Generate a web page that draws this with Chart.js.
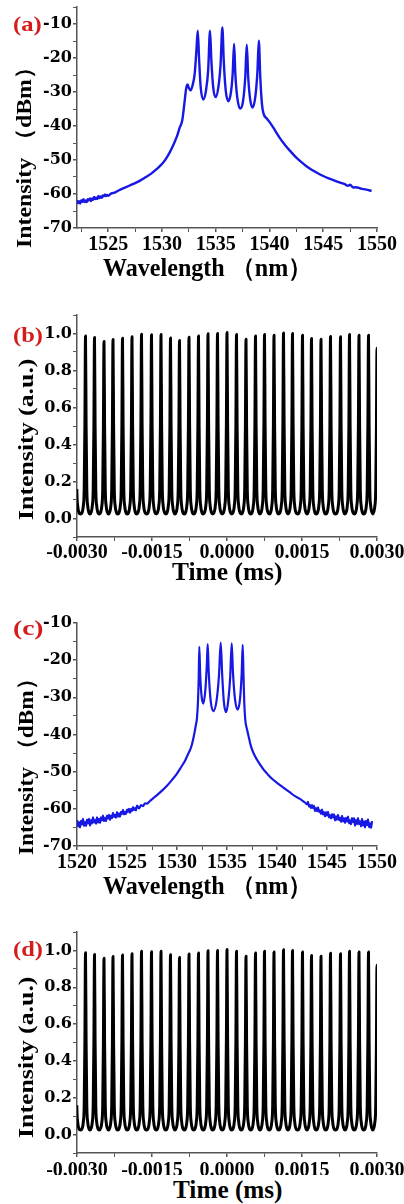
<!DOCTYPE html>
<html>
<head>
<meta charset="utf-8">
<script src="https://cdn.jsdelivr.net/npm/chart.js@4.4.0/dist/chart.umd.min.js"></script>
<style>
  body { margin: 0; background: #fff; width: 404px; height: 1204px; position: relative; overflow: hidden; }
  canvas { position: absolute; left: 0; }
  .txt { position: absolute; white-space: nowrap; font-family: 'Liberation Serif', serif; font-weight: bold; line-height: 1; color: #000; }
  .tag { color: #d41c1c; }
</style>
</head>
<body>
<canvas id="a" width="404" height="270" style="top:0px"></canvas>
<canvas id="b" width="404" height="280" style="top:290px"></canvas>
<canvas id="c" width="404" height="280" style="top:596px"></canvas>
<canvas id="d" width="404" height="270" style="top:905px"></canvas>
<script>
// spectrum (a)
const wavelengthA = [1522.1, 1522.2, 1522.3, 1522.4, 1522.5, 1522.6, 1522.7, 1522.8, 1522.9, 1523.0,
  1523.1, 1523.2, 1523.3, 1523.4, 1523.5, 1523.6, 1523.7, 1523.8, 1523.9, 1524.0,
  1524.1, 1524.2, 1524.3, 1524.4, 1524.5, 1524.6, 1524.7, 1524.8, 1524.9, 1525.0,
  1525.3, 1525.6, 1526.0, 1526.5, 1527.0,
  1527.5, 1528.0, 1528.5, 1529.0, 1529.5, 1530.0, 1530.4, 1530.75, 1531.1, 1531.4,
  1531.65, 1531.89, 1532.1, 1532.25, 1532.39, 1532.5, 1532.67, 1532.85, 1533.05, 1533.2,
  1533.33, 1533.45, 1533.6, 1533.85, 1534.1, 1534.3, 1534.47, 1534.6, 1534.78, 1535.0,
  1535.25, 1535.45, 1535.62, 1535.75, 1535.93, 1536.18, 1536.42, 1536.58, 1536.71, 1536.83,
  1537.0, 1537.27, 1537.55, 1537.75, 1537.89, 1538.02, 1538.2, 1538.42, 1538.68, 1538.88,
  1539.01, 1539.15, 1539.3, 1539.44, 1539.75, 1540.0, 1540.5, 1541.0, 1541.5, 1542.0,
  1542.5, 1543.0, 1543.5, 1544.0, 1544.5, 1545.0, 1545.5, 1546.0, 1546.5, 1547.0,
  1547.3, 1547.5, 1547.8, 1548.0, 1548.5, 1549.0, 1549.5];
const powerA = [-61.8, -62.7, -62.1, -62.8, -61.8, -62.3, -61.5, -62.4, -61.9, -62.4,
  -61.5, -61.9, -61.3, -62.1, -61.3, -61.7, -60.9, -61.5, -61.1, -61.5,
  -60.6, -61.2, -60.7, -61.1, -60.4, -60.7, -60.1, -60.6, -60.3, -60.5,
  -59.8, -59.6, -58.9, -58.2, -57.5,
  -56.8, -56.0, -55.0, -54.0, -52.7, -51.2, -49.5, -47.6, -45.3, -43.0,
  -40.5, -38.3, -33.0, -29.0, -27.8, -28.8, -29.5, -28.0, -24.5, -18.0,
  -12.0, -20.0, -28.5, -32.2, -29.5, -23.5, -12.0, -21.0, -29.0, -31.5,
  -28.5, -22.0, -11.0, -21.0, -29.5, -32.7, -30.0, -24.5, -15.9, -25.0,
  -31.5, -34.9, -32.5, -25.5, -16.1, -25.5, -32.0, -34.6, -31.5, -24.0,
  -14.9, -26.0, -33.5, -36.3, -37.8, -38.8, -41.2, -43.7, -45.8, -47.6,
  -49.3, -50.7, -52.0, -53.0, -53.9, -54.7, -55.4, -56.0, -56.6, -57.1,
  -57.6, -57.3, -58.1, -58.0, -58.4, -58.7, -59.1];

// spectrum (c)
const wavelengthC = [1520.0, 1520.1, 1520.2, 1520.3, 1520.4, 1520.5, 1520.6, 1520.7, 1520.8, 1520.9,
  1521.0, 1521.1, 1521.2, 1521.3, 1521.4, 1521.5, 1521.6, 1521.7, 1521.8, 1521.9,
  1522.0, 1522.1, 1522.2, 1522.3, 1522.4, 1522.5, 1522.6, 1522.7, 1522.8, 1522.9,
  1523.0, 1523.1, 1523.2, 1523.3, 1523.4, 1523.5, 1523.6, 1523.7, 1523.8, 1523.9,
  1524.0, 1524.1, 1524.2, 1524.3, 1524.4, 1524.5, 1524.6, 1524.7, 1524.8, 1524.9,
  1525.0, 1525.1, 1525.2, 1525.3, 1525.4, 1525.5, 1525.6, 1525.7, 1525.8, 1525.9,
  1526.0, 1526.2, 1526.4, 1526.6, 1526.8, 1527.0, 1527.3, 1527.6, 1528.0, 1528.5,
  1529.0, 1529.5, 1530.0, 1530.4, 1530.83, 1531.1, 1531.33, 1531.5, 1531.67, 1531.85,
  1532.0, 1532.1, 1532.17, 1532.23, 1532.32, 1532.45, 1532.63, 1532.82, 1532.97, 1533.07,
  1533.17, 1533.35, 1533.63, 1533.95, 1534.2, 1534.37, 1534.52, 1534.68, 1534.9, 1535.1,
  1535.32, 1535.47, 1535.6, 1535.8, 1536.07, 1536.3, 1536.47, 1536.57, 1536.65, 1536.72,
  1536.83, 1537.0, 1537.17, 1537.4, 1537.67, 1538.0, 1538.33, 1538.7, 1539.0, 1539.5,
  1540.0, 1540.6, 1541.3, 1541.8, 1542.2, 1542.5, 1542.8,
  1543.0, 1543.1, 1543.2, 1543.3, 1543.4, 1543.5, 1543.6, 1543.7, 1543.8, 1543.9,
  1544.0, 1544.1, 1544.2, 1544.3, 1544.4, 1544.5, 1544.6, 1544.7, 1544.8, 1544.9,
  1545.0, 1545.1, 1545.2, 1545.3, 1545.4, 1545.5, 1545.6, 1545.7, 1545.8, 1545.9,
  1546.0, 1546.1, 1546.2, 1546.3, 1546.4, 1546.5, 1546.6, 1546.7, 1546.8, 1546.9,
  1547.0, 1547.1, 1547.2, 1547.3, 1547.4, 1547.5, 1547.6, 1547.7, 1547.8, 1547.9,
  1548.0, 1548.1, 1548.2, 1548.3, 1548.4, 1548.5, 1548.6, 1548.7, 1548.8, 1548.9,
  1549.0, 1549.1, 1549.2, 1549.3, 1549.4, 1549.5];
const powerC = [-63.0, -64.7, -63.6, -65.0, -63.2, -64.2, -62.7, -64.6, -63.6, -64.6,
  -62.9, -63.9, -62.7, -64.5, -63.0, -63.9, -62.3, -63.7, -63.0, -64.0,
  -62.3, -63.7, -62.7, -63.8, -62.3, -63.1, -61.8, -63.3, -62.5, -63.3,
  -61.8, -62.6, -61.6, -63.0, -61.8, -62.5, -61.1, -62.2, -61.6, -62.4,
  -60.9, -62.1, -61.2, -62.1, -60.8, -61.4, -60.3, -61.5, -60.8, -61.4,
  -60.2, -60.8, -60.0, -61.1, -60.0, -60.6, -59.5, -60.3, -59.8, -60.4,
  -59.1, -59.9, -59.0, -59.3, -58.5, -58.6, -57.9, -57.2, -56.3, -55.1,
  -53.8, -52.2, -50.5, -48.8, -46.9, -45.3, -44.0, -42.6, -40.6, -38.0,
  -35.5, -31.0, -25.0, -16.4, -24.0, -29.5, -31.7, -28.5, -22.0, -15.7,
  -23.0, -30.5, -33.7, -31.0, -24.0, -15.3, -24.0, -31.0, -34.0, -31.5,
  -24.5, -15.5, -23.5, -30.5, -33.3, -30.5, -23.5, -15.9, -24.0, -31.0,
  -36.1, -38.6, -40.6, -43.2, -45.1, -46.8, -48.2, -49.6, -50.5, -51.9,
  -53.0, -54.2, -55.6, -56.6, -57.2, -57.7, -58.3,
  -58.8, -58.1, -59.4, -59.0, -59.8, -59.0, -59.8, -59.2, -60.6, -59.8,
  -60.6, -59.6, -60.8, -60.4, -61.4, -60.2, -61.5, -60.9, -62.0, -60.9,
  -61.8, -60.8, -62.3, -61.7, -62.6, -61.4, -62.3, -61.5, -63.1, -62.0,
  -62.9, -61.6, -63.0, -62.4, -63.5, -61.9, -63.4, -62.5, -63.8, -62.4,
  -63.4, -62.1, -63.9, -63.1, -64.1, -62.5, -63.6, -62.5, -64.5, -63.0,
  -64.1, -62.5, -64.1, -63.4, -64.7, -62.7, -64.5, -63.4, -65.0, -63.2,
  -64.4, -62.8, -64.9, -63.9, -65.1, -63.3];

// pulse train (b) and (d): peak times (ms) and peak heights (a.u.)
const pulsePeakTimes = [-0.00303, -0.00283, -0.00265, -0.00246, -0.00228, -0.00209, -0.00190, -0.00171,
  -0.00151, -0.00132, -0.00113, -0.00095, -0.00076, -0.00057, -0.00038, -0.00019,
  0.00000, 0.00019, 0.00038, 0.00057, 0.00075, 0.00094, 0.00113, 0.00131,
  0.00151, 0.00169, 0.00188, 0.00207, 0.00227, 0.00245, 0.00264, 0.00283, 0.00300];
const pulsePeakHeights = [0.98, 0.987, 0.978, 0.957, 0.967, 0.975, 0.982, 0.996,
  0.993, 0.995, 0.976, 0.962, 0.980, 0.986, 0.998, 1.000,
  1.005, 0.995, 0.969, 0.986, 0.995, 0.991, 1.003, 1.000,
  0.991, 0.973, 0.969, 0.984, 0.982, 0.995, 0.991, 0.991, 0.92];
const pulseTrough = 0.025;
// profile of one pulse: distance from its peak (ms) and fraction of its height
const pulseShapeOffsets = [0.000064, 0.000044, 0.000026, 0.000012];
const pulseShapeLevels = [0.012, 0.045, 0.14, 0.5];

const spectrumTicksY = { min: -70, step: 5, major: 10 };

function zip(xs, ys) {
  return xs.map((x, i) => ({ x: x, y: ys[i] }));
}

function pulsePoints(times, heights) {
  const pts = [];
  for (let i = 0; i < times.length; i++) {
    const t = times[i], h = heights[i];
    if (i > 0) pts.push({ x: (times[i - 1] + t) / 2, y: pulseTrough });
    for (let k = 0; k < pulseShapeOffsets.length; k++)
      pts.push({ x: t - pulseShapeOffsets[k], y: pulseTrough + (h - pulseTrough) * pulseShapeLevels[k] });
    pts.push({ x: t, y: h });
    for (let k = pulseShapeOffsets.length - 1; k >= 0; k--)
      pts.push({ x: t + pulseShapeOffsets[k], y: pulseTrough + (h - pulseTrough) * pulseShapeLevels[k] });
  }
  return pts;
}

const axisColor = '#555';

function makeChart(id, p) {
  new Chart(document.getElementById(id), {
    type: 'line',
    data: {
      datasets: [{
        data: p.points,
        borderColor: p.color,
        borderWidth: p.width,
        borderJoinStyle: 'round',
        pointRadius: 0,
        tension: 0,
        cubicInterpolationMode: 'monotone',
        clip: 0
      }]
    },
    options: {
      responsive: false,
      animation: false,
      events: [],
      layout: { padding: { top: p.padTop, right: 27, left: 0, bottom: 0 } },
      plugins: { legend: { display: false }, tooltip: { enabled: false } },
      scales: {
        x: {
          type: 'linear', min: p.xMin, max: p.xMax,
          border: { color: axisColor, width: 1.5 },
          grid: { drawOnChartArea: false, tickLength: 4, color: axisColor,
                  lineWidth: c => p.xMajor(c.tick.value) ? 1.5 : 1 },
          ticks: { stepSize: p.xStep, includeBounds: false, autoSkip: false, maxRotation: 0, minRotation: 0,
                   padding: p.xPad, color: '#000',
                   font: { family: 'Liberation Serif', weight: 'bold', size: 20 },
                   callback: v => p.xMajor(v) ? p.xLabel(v) : '' },
          afterFit: s => { s.height = p.xHeight; s.paddingLeft = 0; s.paddingRight = 0; }
        },
        y: {
          min: p.yMin, max: p.yMax,
          border: { color: axisColor, width: 1.5 },
          grid: { drawOnChartArea: false, tickLength: 4, color: axisColor,
                  lineWidth: c => p.yMajor(c.tick.value) ? 1.5 : 1 },
          ticks: { stepSize: p.yStep, includeBounds: false, autoSkip: false, padding: 1, color: '#000',
                   font: { family: 'DejaVu Serif', weight: 'bold', size: 16 },
                   callback: v => p.yMajor(v) ? p.yLabel(v) : '' },
          afterFit: s => { s.width = 77; s.paddingTop = 0; s.paddingBottom = 0; }
        }
      }
    }
  });
}

const specYMajor = v => Math.round(v) % spectrumTicksY.major === 0 && v <= -10;
const specYLabel = v => String(Math.round(v));
const wlMajor = v => Math.round(v * 2) % 10 === 0;
const wlLabel = v => String(Math.round(v));
const timeMajor = v => Math.round(v / 0.00075) % 2 === 0;
const timeLabel = v => (Math.round(v / 0.00075) * 0.00075).toFixed(4);
const intMajor = v => { const i = Math.round(v * 10); return i % 2 === 0 && i >= 0 && i <= 10; };
const intLabel = v => (Math.round(v * 10) / 10).toFixed(1);

makeChart('a', { points: zip(wavelengthA, powerA), color: '#1818e4', width: 2.4,
  padTop: 7, xHeight: 42, xPad: 1,
  xMin: 1522.1, xMax: 1550, xStep: 2.5, xMajor: wlMajor, xLabel: wlLabel,
  yMin: spectrumTicksY.min, yMax: -5, yStep: spectrumTicksY.step, yMajor: specYMajor, yLabel: specYLabel });

makeChart('b', { points: pulsePoints(pulsePeakTimes, pulsePeakHeights), color: '#000', width: 3,
  padTop: 25, xHeight: 33, xPad: 0,
  xMin: -0.003, xMax: 0.003, xStep: 0.00075, xMajor: timeMajor, xLabel: timeLabel,
  yMin: -0.1, yMax: 1.1, yStep: 0.1, yMajor: intMajor, yLabel: intLabel });

makeChart('c', { points: zip(wavelengthC, powerC), color: '#1818e4', width: 2.2,
  padTop: 27, xHeight: 30, xPad: 0.5,
  xMin: 1520, xMax: 1550, xStep: 2.5, xMajor: wlMajor, xLabel: wlLabel,
  yMin: spectrumTicksY.min, yMax: -10, yStep: spectrumTicksY.step, yMajor: specYMajor, yLabel: specYLabel });

makeChart('d', { points: pulsePoints(pulsePeakTimes, pulsePeakHeights), color: '#000', width: 3,
  padTop: 27, xHeight: 22, xPad: 2,
  xMin: -0.003, xMax: 0.003, xStep: 0.00075, xMajor: timeMajor, xLabel: timeLabel,
  yMin: -0.1, yMax: 1.1, yStep: 0.1, yMajor: intMajor, yLabel: intLabel });

// titles and panel tags as text, stretched to the reference lengths
function addText(text, size, left, top, length, rotated, cls) {
  const el = document.createElement('div');
  el.className = 'txt' + (cls ? ' ' + cls : '');
  el.textContent = text;
  el.style.fontSize = size + 'px';
  el.style.left = left + 'px';
  el.style.top = top + 'px';
  document.body.appendChild(el);
  const s = length / el.offsetWidth;
  el.style.transformOrigin = '0 0';
  el.style.transform = (rotated ? 'rotate(-90deg) ' : '') + 'scaleX(' + s.toFixed(3) + ')';
}

addText('Intensity （dBm）', 22, 13, 248, 193, true);
addText('Wavelength （nm）', 25, 103, 255, 209, false);
addText('(a)', 22, 13, 13, 29, false, 'tag');

addText('Intensity (a.u.)', 22, 15, 520, 162, true);
addText('Time (ms)', 25, 172, 559, 111, false);
addText('(b)', 22, 13, 324, 30, false, 'tag');

addText('Intensity （dBm）', 22, 15, 855, 188, true);
addText('Wavelength （nm）', 25, 103, 873, 209, false);
addText('(c)', 22, 13, 617, 30, false, 'tag');

addText('Intensity (a.u.)', 22, 15, 1138, 162, true);
addText('Time (ms)', 25, 173, 1177, 110, false);
addText('(d)', 22, 13, 938, 30, false, 'tag');
</script>
</body>
</html>
